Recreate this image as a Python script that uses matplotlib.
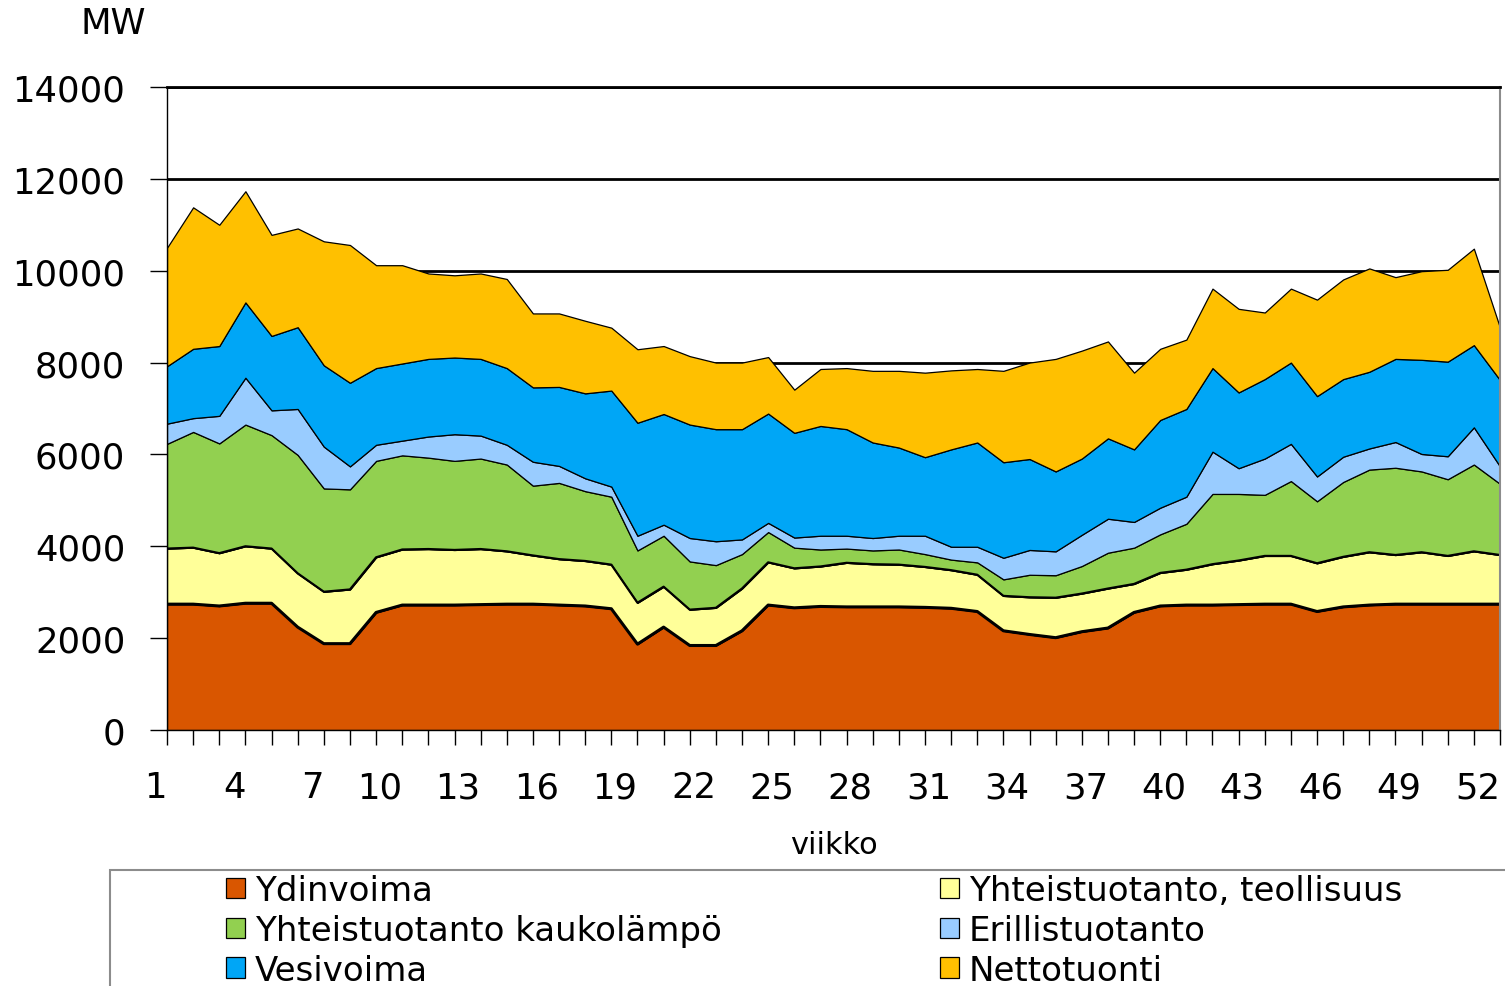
import matplotlib.pyplot as plt
from matplotlib.patches import Rectangle
import numpy as np

# viikot 1-52, MW
viikot = list(range(1, 53))

ydinvoima = [2740, 2740, 2700, 2760, 2760, 2240, 1880, 1880, 2560, 2720, 2720, 2720, 2730,
             2740, 2740, 2720, 2700, 2640, 1870, 2240, 1840, 1840, 2160, 2720, 2660, 2690,
             2680, 2680, 2680, 2670, 2650, 2580, 2160, 2080, 2010, 2140, 2220, 2560, 2700,
             2720, 2720, 2730, 2740, 2740, 2580, 2680, 2720, 2740, 2740, 2740, 2740, 2740]
teollisuus = [1210, 1230, 1150, 1240, 1190, 1170, 1130, 1180, 1200, 1210, 1220, 1200, 1210,
              1150, 1060, 1000, 980, 960, 900, 880, 780, 820, 920, 930, 860, 870,
              960, 930, 920, 880, 830, 800, 760, 810, 870, 830, 860, 620, 720,
              770, 890, 960, 1050, 1050, 1050, 1090, 1150, 1070, 1130, 1050, 1150, 1070]
kaukolampo = [2280, 2520, 2390, 2650, 2470, 2580, 2250, 2180, 2100, 2050, 1990, 1940, 1970,
              1890, 1520, 1660, 1520, 1480, 1140, 1110, 1050, 930, 750, 660, 450, 370,
              310, 300, 330, 280, 230, 270, 360, 490, 490, 600, 780, 790, 840,
              1000, 1530, 1450, 1330, 1630, 1350, 1630, 1800, 1900, 1760, 1670, 1890, 1550]
erillis = [440, 300, 600, 1020, 540, 1000, 910, 500, 350, 320, 460, 580, 500,
           430, 520, 370, 280, 220, 320, 240, 510, 520, 320, 200, 220, 300,
           280, 270, 300, 400, 280, 340, 470, 540, 520, 680, 740, 560, 580,
           590, 920, 560, 790, 810, 540, 550, 460, 560, 380, 500, 810, 380]
vesivoima = [1250, 1510, 1520, 1640, 1620, 1780, 1770, 1820, 1670, 1680, 1690, 1670, 1670,
             1670, 1620, 1720, 1850, 2090, 2460, 2410, 2470, 2440, 2400, 2380, 2280, 2390,
             2320, 2080, 1920, 1710, 2120, 2270, 2080, 1980, 1740, 1660, 1750, 1580, 1910,
             1910, 1820, 1650, 1730, 1770, 1750, 1690, 1670, 1810, 2050, 2060, 1790, 1880]
nettotuonti = [2580, 3080, 2640, 2420, 2200, 2150, 2700, 3000, 2240, 2140, 1860, 1790, 1860,
               1940, 1610, 1600, 1580, 1370, 1600, 1480, 1490, 1450, 1450, 1230, 940, 1240,
               1330, 1560, 1670, 1840, 1720, 1600, 1990, 2100, 2450, 2350, 2110, 1670, 1550,
               1510, 1730, 1820, 1450, 1610, 2100, 2170, 2250, 1780, 1930, 2000, 2100, 1140]

nimet = ["Ydinvoima", "Yhteistuotanto, teollisuus", "Yhteistuotanto kaukolämpö",
         "Erillistuotanto", "Vesivoima", "Nettotuonti"]
varit = ["#D95600", "#FFFF99", "#92D050", "#99CCFF", "#00A6F6", "#FFC000"]

x_labels = list(range(1, 53, 3))
y_ticks = list(range(0, 14001, 2000))

W, H = 1505, 987


def draw() -> None:
    plt.rcParams['font.family'] = ['DejaVu Sans']
    fig = plt.figure(figsize=(W / 100, H / 100), dpi=100)
    ax = fig.add_axes([167 / W, 1 - 731 / H, 1333 / W, 643 / H])

    ax.set_axisbelow(True)
    ax.yaxis.grid(True, color="black", lw=2)

    polys = ax.stackplot(viikot, ydinvoima, teollisuus, kaukolampo, erillis, vesivoima, nettotuonti,
                         colors=varit, labels=nimet, edgecolor="black", linewidth=0.9)
    ax.plot(viikot, ydinvoima, color="black", lw=2.2)
    ax.plot(viikot, np.add(ydinvoima, teollisuus), color="black", lw=1.6)

    ax.set_xlim(1, 52)
    ax.set_ylim(0, 14000)
    ax.set_yticks(y_ticks)
    ax.set_yticklabels([str(v) for v in y_ticks])
    ax.set_xticks(x_labels)
    ax.set_xticklabels([str(v) for v in x_labels], ha="right")
    ax.set_xticks(viikot, minor=True)

    ax.tick_params(axis="y", direction="out", length=12, width=1, pad=18, labelsize=25.5)
    ax.tick_params(axis="x", which="both", direction="out", length=11, width=1, pad=18, labelsize=25.5)

    ax.spines["left"].set_linewidth(1)
    ax.spines["bottom"].set_linewidth(1)
    ax.spines["top"].set_linewidth(2)
    ax.spines["right"].set_color("#8c8c8c")
    ax.spines["right"].set_linewidth(1.5)

    fig.text(113 / W, 1 - 24 / H, "MW", fontsize=25.5, ha="center", va="center")
    fig.text(834 / W, 1 - 846 / H, "viikko", fontsize=22, ha="center", va="center")

    # legend box (continues past the image edge)
    fig.add_artist(Rectangle((110 / W, -0.1), 1.2, (H - 871) / H + 0.1, transform=fig.transFigure,
                             fill=False, edgecolor="#8c8c8c", lw=1.5))
    opts = dict(loc="upper left", frameon=False, fontsize=24.5, handlelength=0.55, handleheight=0.55,
                handletextpad=0.3, labelspacing=0.2, borderpad=0, borderaxespad=0)
    fig.legend([polys[0], polys[2], polys[4]], [nimet[0], nimet[2], nimet[4]],
               bbox_to_anchor=(226 / W, 1 - 875 / H), **opts)
    fig.legend([polys[1], polys[3], polys[5]], [nimet[1], nimet[3], nimet[5]],
               bbox_to_anchor=(940 / W, 1 - 875 / H), **opts)

    fig.savefig("out.png", dpi=100)


def main() -> None:
    draw()


main()
